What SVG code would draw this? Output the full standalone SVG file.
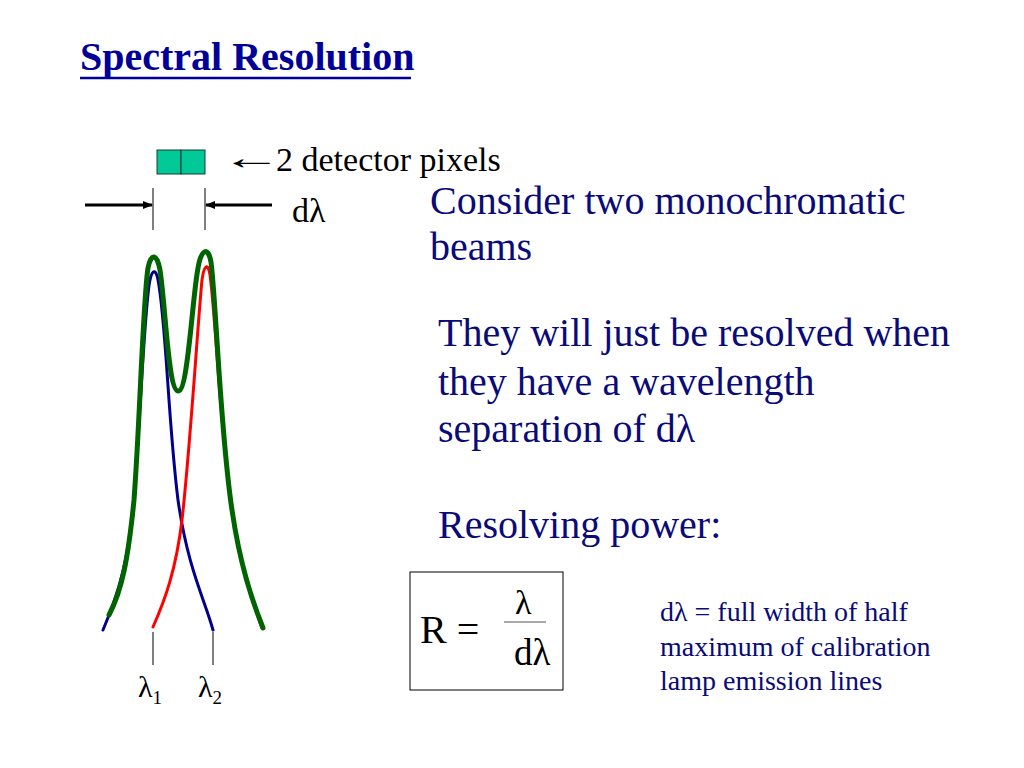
<svg xmlns="http://www.w3.org/2000/svg" width="1024" height="768" viewBox="0 0 1024 768">
<style>
.serif{font-family:"Liberation Serif","Times New Roman",serif;}
.navy{fill:#0a0a78;}
.blk{fill:#000;}
.thin{stroke:#000;stroke-width:1;fill:none;}
.arr{stroke:#000;stroke-width:3;fill:none;}
</style>
<defs>
<marker id="ah" markerWidth="10" markerHeight="8" refX="9" refY="4" orient="auto" markerUnits="userSpaceOnUse">
<path d="M0,0 L10,4 L0,8 z" fill="#000"/>
</marker>
</defs>
<rect width="1024" height="768" fill="#fff"/>
<g id="title">
<text x="80" y="70" class="serif" font-size="40" font-weight="bold" fill="#000099">Spectral Resolution</text>
<line x1="80" y1="78" x2="411" y2="78" stroke="#000099" stroke-width="2.5"/>
</g>
<g id="pixels">
<rect x="157" y="150" width="24" height="24" fill="#00c896" stroke="#1a3a30" stroke-width="1"/>
<rect x="181" y="150" width="24" height="24" fill="#00c896" stroke="#1a3a30" stroke-width="1"/>
<text transform="translate(221,169) scale(1.8,1)" class="serif blk" font-size="34">←</text>
<text x="276" y="171" class="serif blk" font-size="34">2 detector pixels</text>
</g>
<g id="connectors">
<line x1="85" y1="205" x2="152" y2="205" class="arr" marker-end="url(#ah)"/>
<line x1="272" y1="205" x2="206" y2="205" class="arr" marker-end="url(#ah)"/>
<line x1="153" y1="188" x2="153" y2="230" class="thin"/>
<line x1="205" y1="188" x2="205" y2="230" class="thin"/>
<line x1="153" y1="632" x2="153" y2="665" class="thin"/>
<line x1="213" y1="632" x2="213" y2="665" class="thin"/>
</g>
<text x="292" y="222" class="serif blk" font-size="34">dλ</text>
<g id="curves" fill="none" stroke-linecap="round">
<path d="M103,630 C120,590 128,560 134,500 C140,420 145,300 150,280 C152,270 156,268 158,280 C166,320 168,420 178,500 C188,570 205,600 213,630" stroke="#00008c" stroke-width="3"/>
<path d="M153,627 C165,600 176,570 182,520 C190,450 198,320 202,280 C204,265 208,262 210,275 C216,320 220,430 232,510 C240,565 252,600 262,628" stroke="#ff0000" stroke-width="3"/>
<path d="M109,615 C122,590 128,560 134,500 C140,420 143,300 148,268 C151,253 157,253 160,270 C166,310 168,390 178,391 C188,392 192,300 198,268 C201,250 208,245 211,262 C216,300 220,430 232,510 C240,565 252,600 263,628" stroke="#006400" stroke-width="5"/>
</g>
<g id="lambdas">
<text x="138" y="697" class="serif blk" font-size="30">λ<tspan font-size="19" dy="7">1</tspan></text>
<text x="198" y="697" class="serif blk" font-size="30">λ<tspan font-size="19" dy="7">2</tspan></text>
</g>
<g id="text-right" class="serif navy" font-size="40">
<text x="430" y="214">Consider two monochromatic</text>
<text x="430" y="260">beams</text>
<text x="438" y="346">They will just be resolved when</text>
<text x="438" y="395">they have a wavelength</text>
<text x="438" y="442">separation of dλ</text>
<text x="438" y="538">Resolving power:</text>
</g>
<g id="formula">
<rect x="410" y="572" width="153" height="118" fill="none" stroke="#000" stroke-width="1"/>
<text x="420" y="643" class="serif blk" font-size="40">R =</text>
<text x="515" y="614" class="serif blk" font-size="34">λ</text>
<line x1="504" y1="622" x2="546" y2="622" stroke="#555" stroke-width="1.2"/>
<text x="514" y="665" class="serif blk" font-size="37">dλ</text>
</g>
<g id="note" class="serif navy" font-size="28">
<text x="660" y="621">dλ = full width of half</text>
<text x="660" y="656">maximum of calibration</text>
<text x="660" y="690">lamp emission lines</text>
</g>
</svg>
